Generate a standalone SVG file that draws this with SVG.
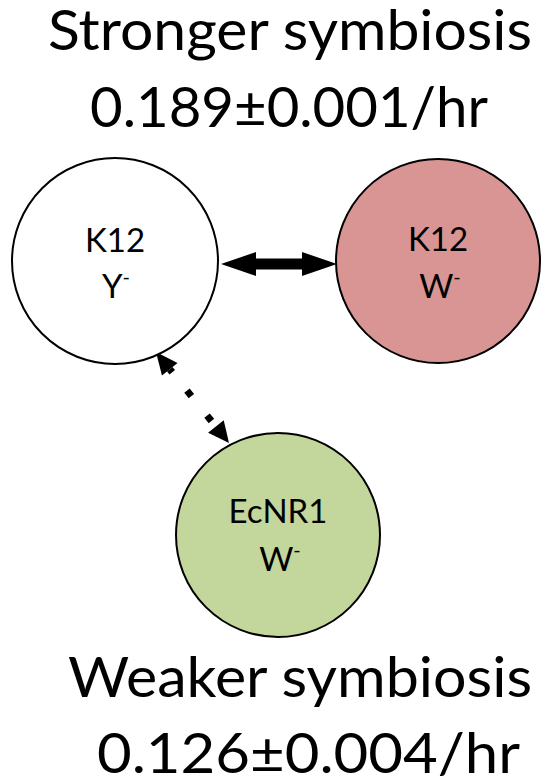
<svg xmlns="http://www.w3.org/2000/svg" width="541" height="783" viewBox="0 0 541 783">
  <style>
    .title { font-family: Lato, "Open Sans", "Liberation Sans", sans-serif; font-size: 56px; fill: #000; }
    .lbl { font-family: Lato, "Open Sans", "Liberation Sans", sans-serif; font-size: 33px; fill: #000; text-anchor: middle; }
    .sup { font-size: 20px; }
    .node { stroke: #000; stroke-width: 2; }
  </style>
  <rect width="541" height="783" fill="#fff"/>
  <g id="title-top">
    <text class="title" x="48" y="50" textLength="484" lengthAdjust="spacingAndGlyphs">Stronger symbiosis</text>
    <text class="title" x="90" y="127" textLength="398" lengthAdjust="spacingAndGlyphs">0.189±0.001/hr</text>
  </g>
  <g id="title-bottom">
    <text class="title" x="68" y="697" textLength="464" lengthAdjust="spacingAndGlyphs">Weaker symbiosis</text>
    <text class="title" x="97" y="773" textLength="423" lengthAdjust="spacingAndGlyphs">0.126±0.004/hr</text>
  </g>
  <g id="connectors">
    <polygon fill="#000" points="221,264 256,252 256,258.5 302,258.5 302,252 337,264 302,276 302,269.5 256,269.5 256,276"/>
    <path d="M169.75,369.2 L215.9,426.6" stroke="#000" stroke-width="7" fill="none" stroke-dasharray="4 23.5 7 25 7 30"/>
    <polygon fill="#000" points="156,352 177.55,362.95 161.95,375.45"/>
    <polygon fill="#000" points="229,443 208.1,432.85 223.7,420.35"/>
  </g>
  <g id="node-k12-y">
    <circle class="node" cx="115" cy="261" r="103" fill="#fff"/>
    <text class="lbl" x="115" y="252">K12</text>
    <text class="lbl" x="116" y="298">Y<tspan class="sup" dy="-14">-</tspan></text>
  </g>
  <g id="node-k12-w">
    <circle class="node" cx="438" cy="261" r="102" fill="#D99594"/>
    <text class="lbl" x="438" y="251">K12</text>
    <text class="lbl" x="440" y="298">W<tspan class="sup" dy="-14">-</tspan></text>
  </g>
  <g id="node-ecnr1-w">
    <circle class="node" cx="278" cy="535" r="102" fill="#C3D69B"/>
    <text class="lbl" x="278" y="523">EcNR1</text>
    <text class="lbl" x="280" y="571">W<tspan class="sup" dy="-14">-</tspan></text>
  </g>
</svg>
